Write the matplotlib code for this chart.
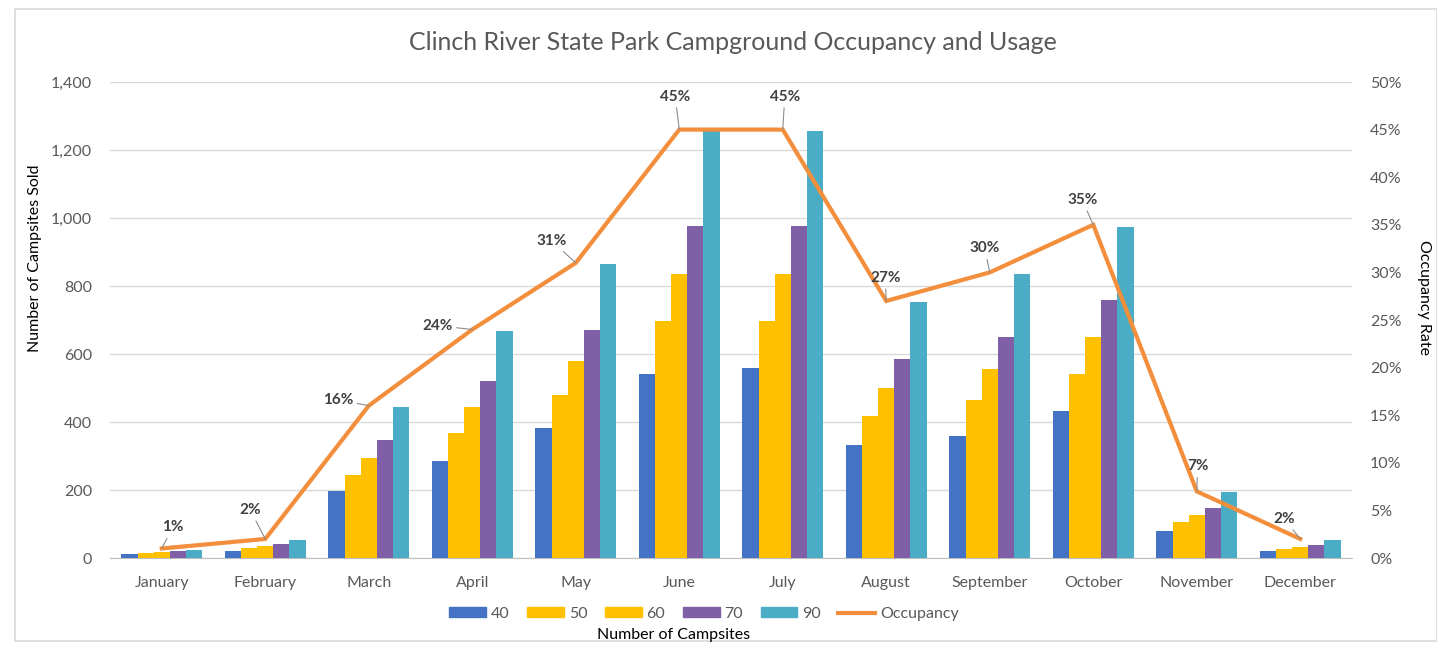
import matplotlib
matplotlib.use("Agg")
import matplotlib.pyplot as plt
import numpy as np
from matplotlib.patches import Rectangle
from matplotlib.lines import Line2D
from matplotlib.ticker import FuncFormatter

months = ["January", "February", "March", "April", "May", "June", "July",
          "August", "September", "October", "November", "December"]
series_names = ["40", "50", "60", "70", "90"]
s40 = [11, 20, 197, 285, 382, 540, 558, 333, 358, 432, 80, 22]
s50 = [16, 28, 243, 369, 480, 697, 697, 417, 464, 542, 107, 26]
s60 = [19, 34, 295, 444, 578, 836, 836, 500, 557, 650, 127, 33]
s70 = [21, 42, 346, 520, 672, 976, 976, 585, 650, 760, 147, 39]
s90 = [25, 54, 444, 668, 865, 1255, 1255, 753, 836, 975, 193, 53]
occupancy = [1, 2, 16, 24, 31, 45, 45, 27, 30, 35, 7, 2]  # percent
left_ticks = [0, 200, 400, 600, 800, 1000, 1200, 1400]
right_ticks = [0, 5, 10, 15, 20, 25, 30, 35, 40, 45, 50]

# layout / style
colors = ["#4472C4", "#FFC000", "#FFC000", "#7F5FA5", "#4BACC6"]
line_color = "#F28E3C"
label_offsets_px = [(11, 21), (-15, 29), (-31, 6), (-35, 4), (-24, 22), (-4, 33),
                    (2, 33), (-1, 23), (-5, 24), (-11, 25), (1, 25), (-16, 20)]

plt.rcParams['font.family'] = ['Lato', 'DejaVu Sans']
W, H = 1437, 647
fig = plt.figure(figsize=(W / 100, H / 100), dpi=100)

# chart border
fig.patches.append(Rectangle((15 / W, 1 - 641 / H), (W - 15) / W, (641 - 9) / H,
                             transform=fig.transFigure, fill=False,
                             edgecolor="#D9D9D9", lw=1.2))

ax_l, ax_r, ax_t, ax_b = 110, 1352, 82, 558
ax = fig.add_axes([ax_l / W, 1 - ax_b / H, (ax_r - ax_l) / W, (ax_b - ax_t) / H])
ax2 = ax.twinx()

x = np.arange(len(months))
all_series = [s40, s50, s60, s70, s90]
n = len(all_series)
group_w = 0.78
bw = group_w / n
for i, (vals, c) in enumerate(zip(all_series, colors)):
    ax.bar(x - group_w / 2 + bw * (i + 0.5), vals, width=bw, color=c, zorder=3,
           linewidth=0)

ax.set_xlim(-0.5, len(months) - 0.5)
ax.set_ylim(0, 1400)
ax.set_yticks(left_ticks)
ax.yaxis.set_major_formatter(FuncFormatter(lambda v, p: f"{int(v):,}"))
ax.set_xticks(x)
ax.set_xticklabels(months)
ax.grid(axis="y", color="#D9D9D9", lw=1, zorder=0)
ax.set_axisbelow(True)
for sp in ax.spines.values():
    sp.set_visible(False)
ax.spines["bottom"].set_visible(True)
ax.spines["bottom"].set_color("#BFBFBF")
ax.tick_params(axis="both", length=0, labelsize=11.5, colors="#595959")
ax.tick_params(axis="x", pad=13)
ax.tick_params(axis="y", pad=13)

occ = np.array(occupancy) / 100.0
ax2.plot(x, occ, color=line_color, lw=3, zorder=5, solid_joinstyle="miter")
ax2.set_ylim(0, 0.5)
ax2.set_yticks(np.array(right_ticks) / 100)
ax2.yaxis.set_major_formatter(FuncFormatter(lambda v, p: f"{v * 100:.0f}%"))
for sp in ax2.spines.values():
    sp.set_visible(False)
ax2.tick_params(axis="y", length=0, labelsize=11.5, colors="#595959", pad=13)

for xi, v, (dx, dy) in zip(x, occ, label_offsets_px):
    ax2.annotate(f"{v * 100:.0f}%", xy=(xi, v), xytext=(dx, dy),
                 textcoords="offset pixels", ha="center", va="center",
                 fontsize=11, fontweight="bold", color="#404040", zorder=6,
                 arrowprops=dict(arrowstyle="-", color="#8C8C8C", lw=0.8,
                                 shrinkA=1, shrinkB=0))

fig.text(733 / W, 1 - 42 / H, "Clinch River State Park Campground Occupancy and Usage",
         ha="center", va="center", fontsize=18, color="#595959")
fig.text(35 / W, 1 - 258 / H, "Number of Campsites Sold", rotation=90,
         ha="center", va="center", fontsize=11.5, color="#000000")
fig.text(1424 / W, 1 - 298 / H, "Occupancy Rate", rotation=-90,
         ha="center", va="center", fontsize=11.5, color="#000000")

handles = [Rectangle((0, 0), 1, 1, color=c) for c in colors]
handles.append(Line2D([0], [0], color=line_color, lw=3))
labels = series_names + ["Occupancy"]
leg = fig.legend(handles, labels, loc="center", bbox_to_anchor=(704 / W, 1 - 614 / H),
                 ncol=6, frameon=False, fontsize=11.5, handlelength=2.3,
                 handleheight=0.6, columnspacing=1.1, handletextpad=0.3)
for t in leg.get_texts():
    t.set_color("#595959")
fig.text(674 / W, 1 - 635 / H, "Number of Campsites", ha="center", va="center",
         fontsize=11.5, color="#000000")

fig.savefig("out.png", dpi=100)
